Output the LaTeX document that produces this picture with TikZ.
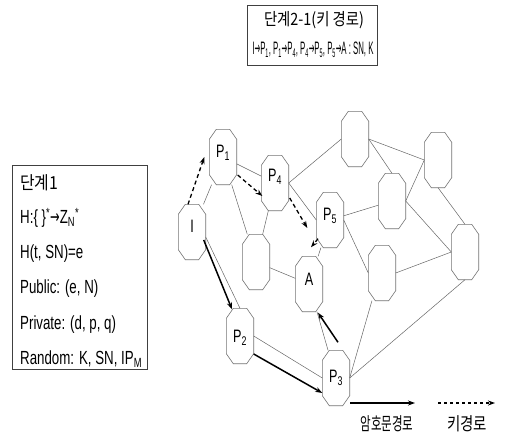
\documentclass[tikz,border=0pt]{standalone}
\usepackage{fontspec}
\setmainfont{Liberation Sans}[FakeStretch=0.7]
\newfontfamily\kr{Noto Sans CJK KR}[FakeStretch=0.75]
\newfontfamily\djv{DejaVu Sans}
\usetikzlibrary{calc,arrows.meta}
\newcommand\myto{\scalebox{0.6}[1]{\djv →}}
\newcommand\dn[1]{\textsubscript{#1}}
\tikzset{
  oct/.style={rectangle, minimum width=27pt, minimum height=55pt, inner sep=0pt, draw=none},
  octl/.style={draw=black!55, line width=0.6pt},
  lab/.style={inner sep=0pt, font=\fontsize{18}{20}\selectfont},
  thinl/.style={draw=black!60, line width=0.5pt},
  cip/.style={line width=1.5pt, -{Stealth[length=7pt,width=5pt]}},
  keyl/.style={line width=1.3pt, dash pattern=on 4pt off 3pt, -{Stealth[length=7pt,width=5pt]}},
  boxl/.style={draw=black!75, line width=0.6pt, inner sep=0pt},
  ltxt/.style={anchor=west, inner sep=0pt, font=\fontsize{19}{22}\selectfont},
}
\begin{document}
\begin{tikzpicture}[x=1pt,y=-1pt]
\useasboundingbox (0,0) rectangle (505,436);
% boxes
\node[boxl, minimum width=130pt, minimum height=60pt] (topbox) at (312,35) {};
\node[inner sep=0pt] (ttitle) at (314,20) {\resizebox{100pt}{\height}{\kr\fontsize{17}{19}\selectfont 단계2-1(키 경로)}};
\node[inner sep=0pt] (tform) at (313,50) {\resizebox{121pt}{\height}{\fontsize{18}{20}\selectfont I\myto P\dn{1}, P\dn{1}\myto P\dn{4}, P\dn{4}\myto P\dn{5}, P\dn{5}\myto A : SN, K}};

\node[boxl, minimum width=135pt, minimum height=204pt] (leftbox) at (79.5,267) {};
\node[ltxt] (l0) at (20,183) {\resizebox{38pt}{\height}{\kr\fontsize{18}{20}\selectfont 단계1}};
\node[ltxt] (l1) at (20,218) {H:\{ \}\textsuperscript{*}\myto Z\dn{N}\textsuperscript{*}};
\node[ltxt] (l2) at (20,254) {H(t, SN)=e};
\node[ltxt] (l3) at (20,289) {Public: (e, N)};
\node[ltxt] (l4) at (20,325) {Private: (d, p, q)};
\node[ltxt] (l5) at (20,359) {Random: K, SN, IP\dn{M}};

% octagon nodes
\node[oct] (P1) at (223,157) {};
\node[oct] (P4) at (275,183) {};
\node[oct] (T1) at (355,139) {};
\node[oct] (T2) at (438,160) {};
\node[oct] (P5) at (330,220) {};
\node[oct] (M1) at (392,201) {};
\node[oct] (I)  at (192,232) {};
\node[oct] (N1) at (256,262) {};
\node[oct] (A)  at (309,284) {};
\node[oct] (M2) at (382,273) {};
\node[oct] (R)  at (465,252) {};
\node[oct] (P2) at (240,336) {};
\node[oct] (P3) at (336,378) {};
\foreach \n in {P1,P4,T1,T2,P5,M1,I,N1,A,M2,R,P2,P3}{
  \draw[octl] ($(\n.north west)+(7,0)$) -- ($(\n.north east)+(-7,0)$) -- ($(\n.north east)+(0,10)$)
    -- ($(\n.south east)+(0,-10)$) -- ($(\n.south east)+(-7,0)$) -- ($(\n.south west)+(7,0)$)
    -- ($(\n.south west)+(0,-10)$) -- ($(\n.north west)+(0,10)$) -- cycle;
}
\node[lab] at ($(P1)+(0,-4)$) {P\dn{1}};
\node[lab] at ($(P4)+(0,-6)$) {P\dn{4}};
\node[lab] at ($(P5)+(0,-4)$) {P\dn{5}};
\node[lab] at ($(I)+(0,-6)$) {I};
\node[lab] at ($(A)+(0,-5)$) {A};
\node[lab] at ($(P2)+(0,2)$) {P\dn{2}};
\node[lab] at ($(P3)+(0,0)$) {P\dn{3}};

% thin edges
\draw[thinl] (I) -- (P1);
\draw[thinl] (P1) -- (P4);
\draw[thinl] (P1) -- (N1);
\draw[thinl] (P4) -- (N1);
\draw[thinl] (P4.east) -- (T1.west);
\draw[thinl] (P4.east) -- (P5.west);
\draw[thinl] (N1) -- (A);
\draw[thinl] (A) -- (P5);
\draw[thinl] (A) -- (P3);
\draw[thinl] ($(I.east)+(0,5)$) -- (P2.north);
\draw[thinl] (P2.east) -- (P3.west);
\draw[thinl] (P5) -- (M1);
\draw[thinl] (P5.east) -- (M2.west);
\draw[thinl] (M2.-110) -- (P3.east);
\draw[thinl] (R.south) -- (P3.east);
\draw[thinl] (M2.east) -- (R.west);
\draw[thinl] (M1.east) -- (R.west);
\draw[thinl] (M1.north) -- (T1.east);
\draw[thinl] (T1.east) -- (T2.west);
\draw[thinl] (M1.east) -- (T2.west);
\draw[thinl] (T2.south) -- (R.north);

% key path (dashed)
\draw[keyl] ($(I.north)+(-4,0)$) -- ($(P1.west)+(-5,0)$);
\draw[keyl] ($(P1.east)+(1,18)$) -- ($(P4.west)+(1,13)$);
\draw[keyl] ($(P4.east)+(1,15)$) -- ($(P5.west)+(-9,8)$);
\draw[keyl] ($(P5.south)+(-12,-9)$) -- ($(A.north)+(2,-9)$);

% cipher path (solid)
\draw[cip] ($(I.east)+(-2,8)$) -- ($(P2.north)+(-8,1)$);
\draw[cip] ($(P2.east)+(0,18)$) -- ($(P3.west)+(0,15)$);
\draw[cip] ($(P3.north)+(2,-8)$) -- ($(A.south)+(9,1)$);

% legend
\coordinate (la) at (350,403);
\coordinate (lb) at (415,403);
\coordinate (lc) at (438,403);
\coordinate (ld) at (495,403);
\draw[cip, line width=1.2pt] (la) -- (lb);
\draw[keyl, line width=1.1pt, dash pattern=on 3pt off 3pt] (lc) -- (ld);
\node[inner sep=0pt] (lt1) at (387,424) {\resizebox{53pt}{\height}{\kr\fontsize{18}{20}\selectfont 암호문경로}};
\node[inner sep=0pt] (lt2) at (467,424) {\resizebox{40pt}{\height}{\kr\fontsize{18}{20}\selectfont 키경로}};
\end{tikzpicture}
\end{document}
